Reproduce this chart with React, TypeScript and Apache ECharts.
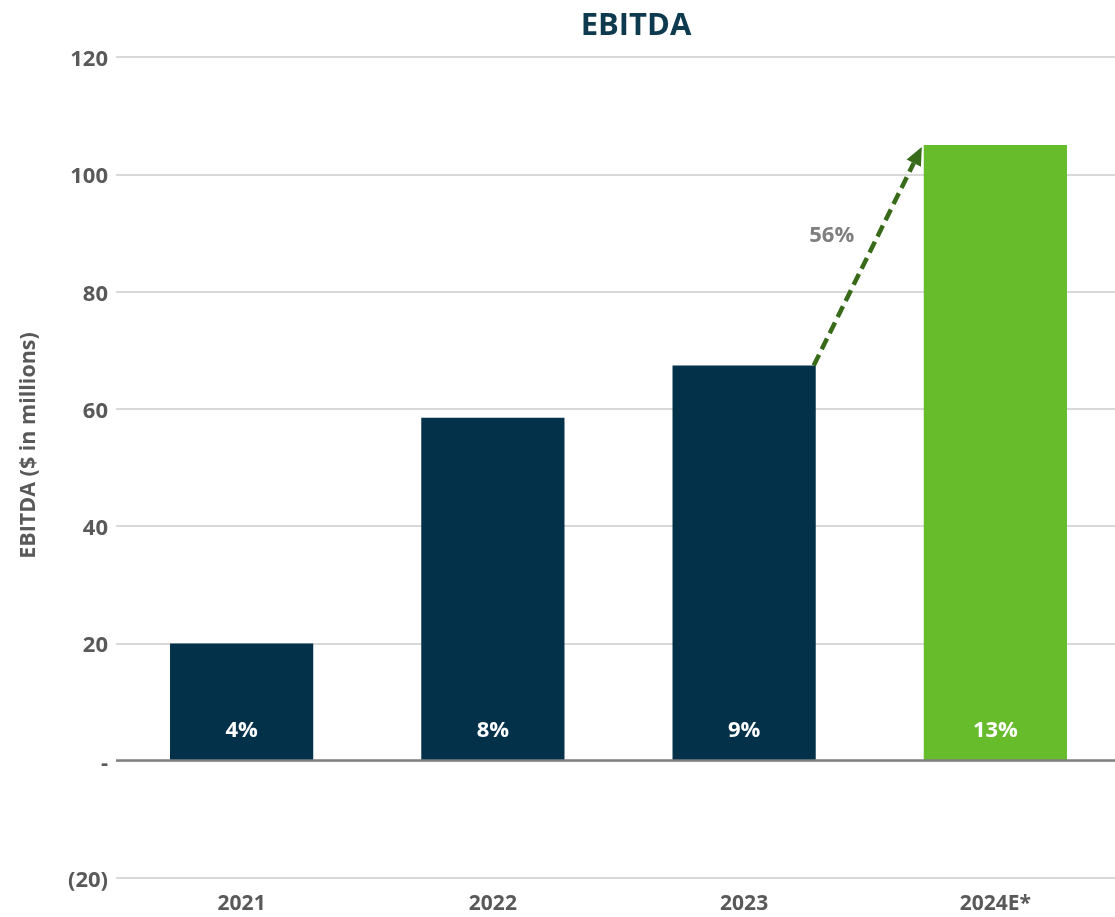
import React, { useEffect, useRef } from "react";
import * as echarts from "echarts";

const categories = ["2021", "2022", "2023", "2024E*"];
const ebitda = [20, 58.5, 67.4, 105];
const margins = ["4%", "8%", "9%", "13%"];
const barColors = ["#03314A", "#03314A", "#03314A", "#67BC2C"];
const growthFrom = 2;
const growthTo = 3;
const growthLabel = "56%";
const yTicks = { min: -20, max: 120, interval: 20 };

const FONT = "'Open Sans', sans-serif";
const BAR_FRACTION = 0.57;

export default function App() {
  const ref = useRef<HTMLDivElement>(null);
  useEffect(() => {
    if (!ref.current) return;
    const chart = echarts.init(ref.current, null, { renderer: "svg" });
    const option = {
      animation: false,
      textStyle: { fontFamily: FONT },
      title: {
        text: "EBITDA",
        left: 631,
        textAlign: "center",
        top: 2,
        textStyle: { fontSize: 31, fontWeight: "bold", color: "#0D3A4F", fontFamily: FONT },
      },
      grid: { left: 116, right: 0, top: 57, bottom: 39, containLabel: false },
      xAxis: {
        type: "category",
        data: categories,
        axisLine: { show: false },
        axisTick: { show: false },
        axisLabel: {
          interval: 0,
          margin: 13,
          fontSize: 21,
          lineHeight: 21,
          fontWeight: "bold",
          color: "#595959",
          fontFamily: FONT,
        },
      },
      yAxis: {
        type: "value",
        min: yTicks.min,
        max: yTicks.max,
        interval: yTicks.interval,
        name: "EBITDA ($ in millions)",
        nameLocation: "middle",
        nameRotate: 90,
        nameGap: 79,
        nameTextStyle: {
          fontSize: 21.5,
          fontWeight: "bold",
          color: "#595959",
          fontFamily: FONT,
          padding: [0, 0, 0, 44],
        },
        axisLine: { show: false },
        axisTick: { show: false },
        axisLabel: {
          margin: 8,
          fontSize: 22,
          fontWeight: "bold",
          color: "#595959",
          fontFamily: FONT,
          formatter: (v: number) => (v === 0 ? "-" : v < 0 ? `(${-v})` : `${v}`),
        },
        splitLine: { lineStyle: { color: "#D9D9D9", width: 2 } },
      },
      series: [
        {
          type: "bar",
          barWidth: `${BAR_FRACTION * 100}%`,
          data: ebitda.map((v, i) => ({
            value: v,
            itemStyle: { color: barColors[i] },
            label: {
              show: true,
              position: "insideBottom",
              distance: 22,
              formatter: margins[i],
              color: "#FFFFFF",
              fontSize: 22,
              fontWeight: "bold",
              fontFamily: FONT,
            },
          })),
          markLine: {
            silent: true,
            symbol: "none",
            label: { show: false },
            lineStyle: { color: "#7F7F7F", width: 2.5, type: "solid" },
            data: [{ yAxis: 0 }],
          },
          z: 2,
        },
        {
          type: "custom",
          z: 5,
          data: [[growthFrom, ebitda[growthFrom], growthTo, ebitda[growthTo]]],
          encode: { x: [0, 2], y: [1, 3] },
          renderItem: (params: any, api: any) => {
            const p1 = api.coord([api.value(0), api.value(1)]);
            const p2 = api.coord([api.value(2), api.value(3)]);
            const band = api.size([1, 0])[0];
            const half = (band * BAR_FRACTION) / 2;
            const x1 = p1[0] + half - 2;
            const y1 = p1[1];
            const x2 = p2[0] - half - 2;
            const y2 = p2[1] + 2;
            const dx = x2 - x1;
            const dy = y2 - y1;
            const len = Math.sqrt(dx * dx + dy * dy);
            const ux = dx / len;
            const uy = dy / len;
            const headLen = 18;
            const headW = 8;
            const bx = x2 - ux * headLen;
            const by = y2 - uy * headLen;
            const nx = -uy;
            const ny = ux;
            const mx = (x1 + x2) / 2;
            const my = (y1 + y2) / 2;
            return {
              type: "group",
              children: [
                {
                  type: "line",
                  shape: { x1, y1, x2: bx, y2: by },
                  style: { stroke: "#376B1A", lineWidth: 4.5, lineDash: [12, 6] },
                },
                {
                  type: "polygon",
                  shape: {
                    points: [
                      [x2, y2],
                      [bx + nx * headW, by + ny * headW],
                      [bx - nx * headW, by - ny * headW],
                    ],
                  },
                  style: { fill: "#376B1A" },
                },
                {
                  type: "text",
                  x: mx - 36,
                  y: my - 23,
                  style: {
                    text: growthLabel,
                    fill: "#7F7F7F",
                    fontSize: 22,
                    fontWeight: "bold",
                    fontFamily: FONT,
                    align: "center",
                    verticalAlign: "middle",
                  },
                },
              ],
            };
          },
        },
      ],
    };
    chart.setOption(option as any);
    return () => chart.dispose();
  }, []);
  return (
    <div
      ref={ref}
      style={{ position: "fixed", left: 0, top: 0, width: 1121, height: 917 }}
    />
  );
}
